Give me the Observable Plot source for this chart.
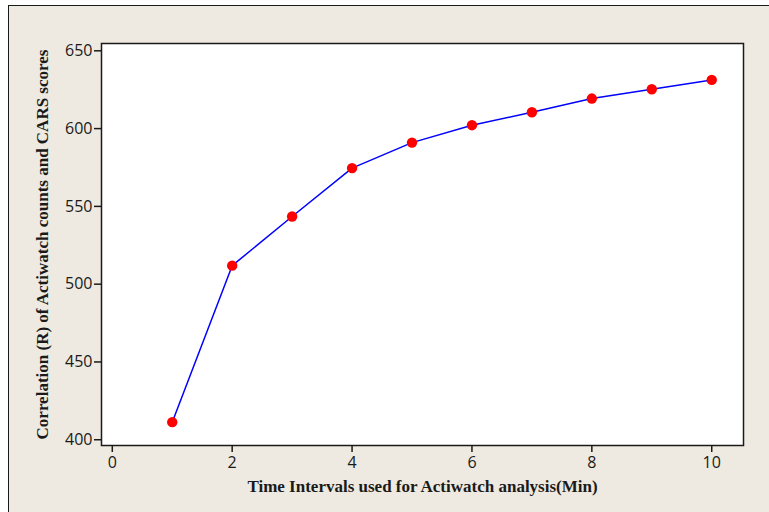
<!DOCTYPE html>
<html>
<head>
<meta charset="utf-8">
<script src="https://cdn.jsdelivr.net/npm/d3@7"></script>
<script src="https://cdn.jsdelivr.net/npm/@observablehq/plot@0.6"></script>
<style>
  html, body { margin: 0; padding: 0; background: #ffffff; }
  #wrap { position: relative; width: 769px; height: 512px; overflow: hidden; }
  #bg { position: absolute; left: 8px; top: 5px; right: -4px; bottom: -4px;
        background: #EEEAE1; border-left: 1.5px solid #1a1a1a; border-top: 1.5px solid #1a1a1a; }
  #chart { position: absolute; left: 0; top: 0; }
</style>
</head>
<body>
<div id="wrap"><div id="bg"></div><div id="chart"></div></div>
<script>
const intervals = [1, 2, 3, 4, 5, 6, 7, 8, 9, 10];
const correlation = [411.3, 511.9, 543.5, 574.6, 591.0, 602.2, 610.5, 619.3, 625.3, 631.3];
const xTicks = [0, 2, 4, 6, 8, 10];
const yTicks = [400, 450, 500, 550, 600, 650];
const xTitle = "Time Intervals used for Actiwatch analysis(Min)";
const yTitle = "Correlation (R) of Actiwatch counts and CARS scores";

const data = intervals.map((x, i) => ({x, y: correlation[i]}));

const chart = Plot.plot({
  width: 769,
  height: 512,
  marginLeft: 101,
  marginRight: 26,
  marginTop: 43,
  marginBottom: 67,
  style: {background: "transparent", color: "#1a1a1a"},
  x: {domain: [-0.18, 10.53]},
  y: {domain: [396.3, 654.7]},
  marks: [
    Plot.frame({fill: "white", stroke: null}),
    Plot.axisX({ticks: xTicks, tickSize: 7, tickPadding: 4, fontSize: 16, fontFamily: "'Open Sans', sans-serif", label: null, strokeWidth: 1.5}),
    Plot.axisY({ticks: yTicks, tickSize: 7, tickPadding: 2, fontSize: 16, fontFamily: "'Open Sans', sans-serif", label: null, strokeWidth: 1.5}),
    Plot.line(data, {x: "x", y: "y", stroke: "#0000FF", strokeWidth: 1.5}),
    Plot.dot(data, {x: "x", y: "y", r: 5.2, fill: "#FF0000", stroke: null}),
    Plot.frame({stroke: "#1a1a1a", strokeWidth: 1.5}),
    Plot.text([xTitle], {frameAnchor: "bottom", dy: 46, text: d => d, textAnchor: "middle", fontSize: 17, fontWeight: "bold", fontFamily: "'Liberation Serif', serif", fill: "#1a1a1a"}),
    Plot.text([yTitle], {frameAnchor: "left", dx: -59, rotate: -90, text: d => d, textAnchor: "middle", fontSize: 17, fontWeight: "bold", fontFamily: "'Liberation Serif', serif", fill: "#1a1a1a"})
  ]
});
document.getElementById("chart").appendChild(chart);
</script>
</body>
</html>
